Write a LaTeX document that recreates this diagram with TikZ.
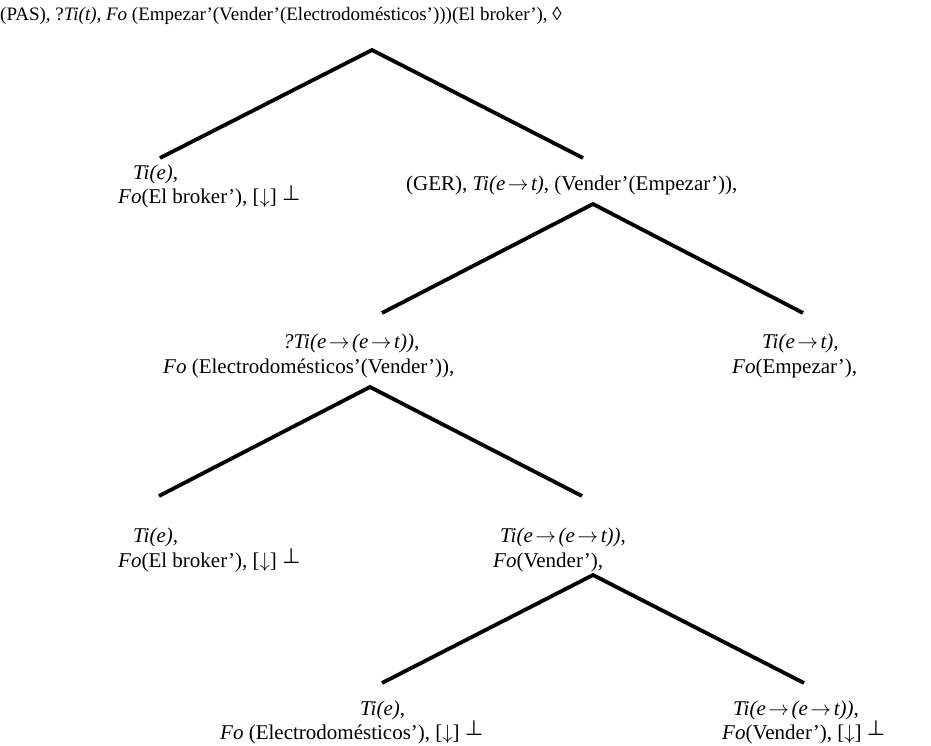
\documentclass[tikz,border=0pt]{standalone}
\usepackage{fontspec}
\setmainfont{Liberation Serif}
\newfontfamily\symfont{DejaVu Sans}
\newcommand{\perpsym}{\raisebox{0.35ex}{\symfont ⊥}}
\newcommand{\arr}{\hspace{0.12em}$\rightarrow$\hspace{0.12em}}
\newcommand{\dn}{$\downarrow$}
\begin{document}
\begin{tikzpicture}[x=1pt,y=-1pt,
  lbl/.style={anchor=base west,inner sep=0pt,font=\fontsize{21}{25}\selectfont},
  toplbl/.style={anchor=base west,inner sep=0pt,font=\fontsize{19}{23}\selectfont},
  edge/.style={line width=3.8pt,line join=miter,line cap=butt}]
\useasboundingbox (0,0) rectangle (931,746);
% text
\node[toplbl] (top) at (0,21) {(PAS), ?\textit{Ti(t), Fo} (Empezar’(Vender’(Electrodomésticos’)))(El broker’), ◊};
\node[lbl] (a1) at (133,179) {\textit{Ti(e),}};
\node[lbl] (a2) at (118,204) {\textit{Fo}(El broker’), [\dn] \perpsym};
\node[lbl] (b1) at (406,190) {(GER), \textit{Ti(e\arr t)}, (Vender’(Empezar’)),};
\node[lbl] (c1) at (283,348) {\textit{?Ti(e\arr(e\arr t)),}};
\node[lbl] (c2) at (163,373) {\textit{Fo} (Electrodomésticos’(Vender’)),};
\node[lbl] (d1) at (762,348) {\textit{Ti(e\arr t),}};
\node[lbl] (d2) at (732,373) {\textit{Fo}(Empezar’),};
\node[lbl] (e1) at (133,542) {\textit{Ti(e),}};
\node[lbl] (e2) at (118,567) {\textit{Fo}(El broker’), [\dn] \perpsym};
\node[lbl] (f1) at (500,542) {\textit{Ti(e\arr(e\arr t))},};
\node[lbl] (f2) at (493,567) {\textit{Fo}(Vender’),};
\node[lbl] (g1) at (360,715) {\textit{Ti(e),}};
\node[lbl] (g2) at (220,739) {\textit{Fo} (Electrodomésticos’), [\dn] \perpsym};
\node[lbl] (h1) at (733,715) {\textit{Ti(e\arr(e\arr t))},};
\node[lbl] (h2) at (722,739) {\textit{Fo}(Vender’), [\dn] \perpsym};
% branch points
\coordinate (p1) at (372,50);
\coordinate (p1l) at (160,158);
\coordinate (p1r) at (583,158);
\coordinate (p2) at (593,204);
\coordinate (p2l) at (382,313);
\coordinate (p2r) at (803,313);
\coordinate (p3) at (370,387);
\coordinate (p3l) at (159,496);
\coordinate (p3r) at (582,496);
\coordinate (p4) at (593,575);
\coordinate (p4l) at (382,683);
\coordinate (p4r) at (804,683);
\draw[edge] (p1l) -- (p1) -- (p1r);
\draw[edge] (p2l) -- (p2) -- (p2r);
\draw[edge] (p3l) -- (p3) -- (p3r);
\draw[edge] (p4l) -- (p4) -- (p4r);
\end{tikzpicture}
\end{document}
